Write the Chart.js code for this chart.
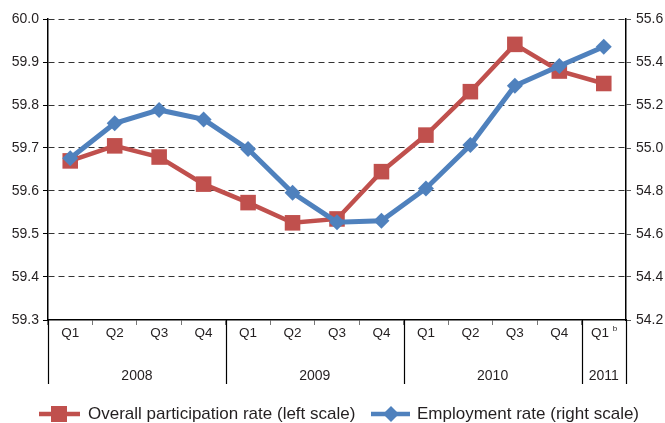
<!DOCTYPE html>
<html>
<head>
<meta charset="utf-8">
<script src="https://cdn.jsdelivr.net/npm/chart.js@4/dist/chart.umd.min.js"></script>
<style>
  html, body { margin: 0; padding: 0; background: #fff; }
  #wrap { width: 665px; height: 423px; position: relative; }
</style>
</head>
<body>
<div id="wrap"><canvas id="chart" width="665" height="423"></canvas></div>
<script>
// Quarterly labels and the year each quarter belongs to
const quarters = ['Q1', 'Q2', 'Q3', 'Q4', 'Q1', 'Q2', 'Q3', 'Q4', 'Q1', 'Q2', 'Q3', 'Q4', 'Q1'];
const years = ['2008', '2009', '2010', '2011'];
const quartersPerYear = [4, 4, 4, 1];

// Series values
const participationRate = [59.67, 59.705, 59.679, 59.616, 59.573, 59.526, 59.535, 59.645, 59.73, 59.831, 59.941, 59.879, 59.85];
const employmentRate = [54.952, 55.115, 55.177, 55.133, 54.995, 54.792, 54.655, 54.662, 54.812, 55.014, 55.29, 55.381, 55.471];

// Axis ranges
const leftMin = 59.3, leftMax = 60.0, leftStep = 0.1;
const rightMin = 54.2, rightMax = 55.6, rightStep = 0.2;

const RED = '#C0504D';
const BLUE = '#4F81BD';
const TEXT = '#231F20';
const FONT = '"Liberation Sans", Arial, Helvetica, sans-serif';

// Year separators, year labels, footnote mark and legend
const extrasPlugin = {
  id: 'extras',
  afterDraw(chart) {
    const ctx = chart.ctx;
    const x = chart.scales.x;
    const area = chart.chartArea;
    const bottom = 384;

    ctx.save();
    ctx.strokeStyle = '#000';
    ctx.lineWidth = 1.2;
    ctx.fillStyle = TEXT;
    ctx.font = '14px ' + FONT;
    ctx.textAlign = 'center';
    ctx.textBaseline = 'middle';

    const half = (x.getPixelForValue(1) - x.getPixelForValue(0)) / 2;
    let start = 0;
    years.forEach((yr, i) => {
      const n = quartersPerYear[i];
      const left = x.getPixelForValue(start) - half;
      const right = x.getPixelForValue(start + n - 1) + half;
      ctx.beginPath();
      ctx.moveTo(Math.round(left) + 0.5, area.bottom);
      ctx.lineTo(Math.round(left) + 0.5, bottom);
      ctx.stroke();
      if (i === years.length - 1) {
        ctx.beginPath();
        ctx.moveTo(Math.round(right) + 0.5, area.bottom);
        ctx.lineTo(Math.round(right) + 0.5, bottom);
        ctx.stroke();
      }
      ctx.fillText(yr, (left + right) / 2, 376);
      start += n;
    });

    // footnote "b" on the last quarter
    ctx.font = '8px ' + FONT;
    ctx.textAlign = 'left';
    ctx.fillText('b', x.getPixelForValue(quarters.length - 1) + 9, 329);

    // legend
    const ly = 414;
    ctx.font = '17px ' + FONT;
    ctx.textAlign = 'left';

    ctx.strokeStyle = RED;
    ctx.lineWidth = 4.5;
    ctx.beginPath();
    ctx.moveTo(39, ly);
    ctx.lineTo(80, ly);
    ctx.stroke();
    ctx.fillStyle = RED;
    ctx.fillRect(59 - 8, ly - 8, 16, 16);
    ctx.fillStyle = TEXT;
    ctx.fillText('Overall participation rate (left scale)', 88, ly);

    ctx.strokeStyle = BLUE;
    ctx.beginPath();
    ctx.moveTo(371, ly);
    ctx.lineTo(410, ly);
    ctx.stroke();
    ctx.fillStyle = BLUE;
    ctx.beginPath();
    ctx.moveTo(391 - 8, ly);
    ctx.lineTo(391, ly - 8);
    ctx.lineTo(391 + 8, ly);
    ctx.lineTo(391, ly + 8);
    ctx.closePath();
    ctx.fill();
    ctx.fillStyle = TEXT;
    ctx.fillText('Employment rate (right scale)', 417, ly);
    ctx.restore();
  }
};

new Chart(document.getElementById('chart'), {
  type: 'line',
  data: {
    labels: quarters,
    datasets: [
      {
        label: 'Employment rate (right scale)',
        data: employmentRate,
        yAxisID: 'y1',
        borderColor: BLUE,
        backgroundColor: BLUE,
        borderWidth: 5,
        pointStyle: 'rectRot',
        pointRadius: 8,
        pointBorderWidth: 0,
        tension: 0
      },
      {
        label: 'Overall participation rate (left scale)',
        data: participationRate,
        yAxisID: 'y',
        borderColor: RED,
        backgroundColor: RED,
        borderWidth: 4.5,
        pointStyle: 'rect',
        pointRadius: 11,
        pointBorderWidth: 0,
        tension: 0
      }
    ]
  },
  options: {
    responsive: false,
    animation: false,
    layout: { padding: { top: 19, left: 0, right: 0, bottom: 0 } },
    plugins: { legend: { display: false }, tooltip: { enabled: false } },
    scales: {
      x: {
        type: 'category',
        offset: true,
        grid: { offset: true, drawOnChartArea: false, tickLength: 5, color: '#777' },
        border: { color: '#000', width: 1.5 },
        ticks: {
          font: { size: 13.5, family: FONT },
          color: TEXT,
          padding: 0,
          maxRotation: 0,
          autoSkip: false,
          // leave room for the footnote mark on the last quarter
          callback: (v, i) => (i === quarters.length - 1 ? quarters[i] + '  ' : quarters[i])
        },
        afterFit(scale) { scale.height = 103; }
      },
      y: {
        position: 'left',
        min: leftMin,
        max: leftMax,
        ticks: {
          stepSize: leftStep,
          font: { size: 14, family: FONT },
          color: TEXT,
          padding: 4,
          callback: v => v.toFixed(1)
        },
        grid: {
          color: c => (c.index === 0 ? 'rgba(0,0,0,0)' : '#333'),
          tickColor: '#000',
          tickLength: 5,
          lineWidth: 1
        },
        border: { color: '#000', width: 1.5, dash: [6, 4] },
        afterFit(scale) { scale.width = 48; }
      },
      y1: {
        position: 'right',
        min: rightMin,
        max: rightMax,
        ticks: {
          stepSize: rightStep,
          font: { size: 14, family: FONT },
          color: TEXT,
          padding: 5,
          callback: v => v.toFixed(1)
        },
        grid: { drawOnChartArea: false, color: '#555', tickLength: 5 },
        border: { color: '#000', width: 1.5 },
        afterFit(scale) { scale.width = 39; }
      }
    }
  },
  plugins: [extrasPlugin]
});
</script>
</body>
</html>
